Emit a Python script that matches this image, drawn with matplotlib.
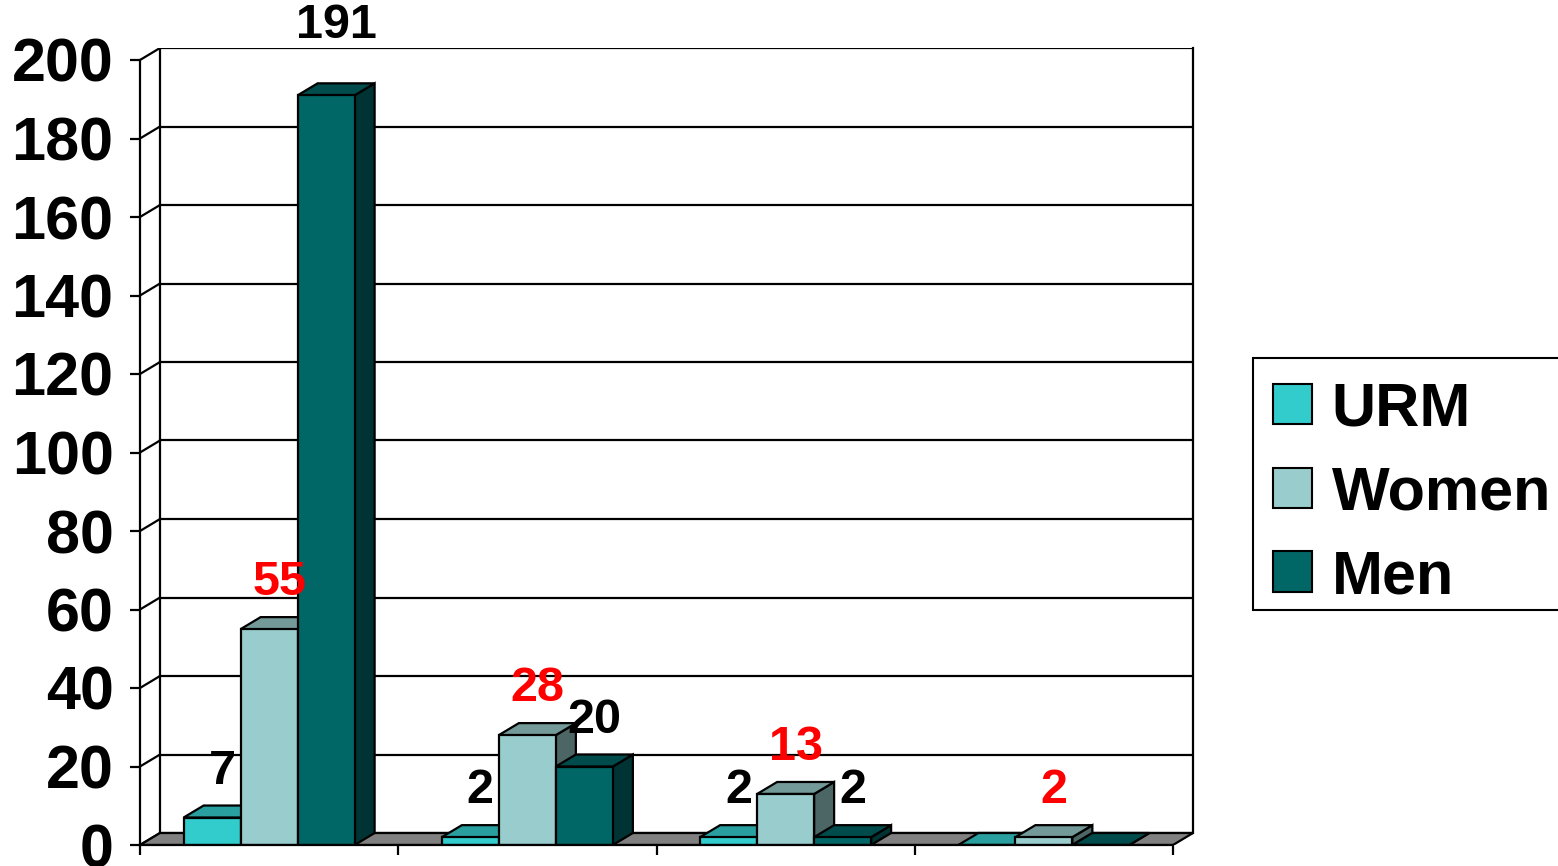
import matplotlib.pyplot as plt
from matplotlib.patches import Polygon, Patch, Rectangle

plt.rcParams['font.family'] = ['Liberation Sans', 'DejaVu Sans']
plt.rcParams['font.weight'] = 'bold'

# Data
series = ['URM', 'Women', 'Men']
urm = [7, 2, 2, 0]
women = [55, 28, 13, 2]
men = [191, 20, 2, 0]
y_ticks = [0, 20, 40, 60, 80, 100, 120, 140, 160, 180, 200]

front_colors = ['#33CCCC', '#99CCCC', '#006666']
top_colors = ['#299F9F', '#739999', '#004C4C']
side_colors = ['#1A6666', '#4C6666', '#003333']
label_colors = ['black', 'red', 'black']

# pixel geometry of the original
px_x0, px_x1 = 140, 1173     # front x axis
px_y0, px_y200 = 845, 60     # front y positions of 0 and 200
dpx, dpy = 20, 12           # 3d depth offset in px
ncat = 4
ux = (px_x1 - px_x0) / ncat           # px per category
uy = (px_y0 - px_y200) / 200          # px per unit
ddx = dpx / ux
ddy = dpy / uy

W, H = 1558, 866
fig = plt.figure(figsize=(W / 100, H / 100), dpi=100)
ax = fig.add_axes([px_x0 / W, (H - px_y0) / H,
                   (px_x1 + dpx - px_x0) / W, (px_y0 - (px_y200 - dpy)) / H])
ax.set_xlim(0, ncat + ddx)
ax.set_ylim(0, 200 + ddy)

lw = 1.6
# floor
ax.add_patch(Polygon([(0, 0), (ncat, 0), (ncat + ddx, ddy), (ddx, ddy)],
                     closed=True, facecolor='#808080', edgecolor='black', lw=lw, zorder=1))
# back wall grid and edges
for v in y_ticks:
    ax.plot([ddx, ncat + ddx], [v + ddy, v + ddy], color='black', lw=lw, zorder=0.5)
    ax.plot([0, ddx], [v, v + ddy], color='black', lw=lw, zorder=0.5)
ax.plot([ddx, ddx], [ddy, 200 + ddy], color='black', lw=lw, zorder=0.5)
ax.plot([ncat + ddx, ncat + ddx], [ddy, 200 + ddy], color='black', lw=lw, zorder=0.5, clip_on=False)

# bars
bw = 57 / ux
start = 0.5 - 1.5 * bw
data = [urm, women, men]
z = 2
text_h = 36 / uy
for i in range(ncat):
    for j, vals in enumerate(data):
        v = vals[i]
        x0 = i + start + j * bw
        x1 = x0 + bw
        front = Polygon([(x0, 0), (x1, 0), (x1, v), (x0, v)], closed=True,
                        facecolor=front_colors[j], edgecolor='black', lw=lw, zorder=z)
        top = Polygon([(x0, v), (x1, v), (x1 + ddx, v + ddy), (x0 + ddx, v + ddy)], closed=True,
                      facecolor=top_colors[j], edgecolor='black', lw=lw, zorder=z)
        side = Polygon([(x1, 0), (x1 + ddx, ddy), (x1 + ddx, v + ddy), (x1, v)], closed=True,
                       facecolor=side_colors[j], edgecolor='black', lw=lw, zorder=z)
        for p in (side, top, front):
            ax.add_patch(p)
        z += 1
        if v > 0:
            ty = v + ddy + 3.0
            if ty + text_h > 200 + ddy:
                ty = 200 + ddy
            ax.text((x0 + x1) / 2 + ddx / 2, ty, str(v), ha='center', va='bottom',
                    fontsize=35, fontweight='bold', color=label_colors[j], zorder=50)

# axes
for s in ['top', 'right']:
    ax.spines[s].set_visible(False)
ax.spines['left'].set_bounds(0, 200)
ax.spines['bottom'].set_bounds(0, ncat)
for s in ['left', 'bottom']:
    ax.spines[s].set_linewidth(lw)
    ax.spines[s].set_zorder(40)
ax.set_yticks(y_ticks)
ax.set_yticklabels([str(v) for v in y_ticks])
ax.set_xticks(range(ncat + 1))
ax.set_xticklabels([])
ax.tick_params(axis='y', length=7, width=lw, pad=12, labelsize=44)
ax.tick_params(axis='x', length=7, width=lw)
for t in ax.get_yticklabels():
    t.set_fontweight('bold')

# legend: frame drawn separately so the rows can sit like the original
ax.add_patch(Rectangle((1253 / W, 1 - 610 / H), 330 / W, 252 / H,
                       transform=fig.transFigure, facecolor='white',
                       edgecolor='black', lw=1.5, zorder=55, clip_on=False))
handles = [Patch(facecolor=c, edgecolor='black', lw=1.5) for c in front_colors]
leg = ax.legend(handles, series, loc='upper left', bbox_to_anchor=(1253 / W, 1 - 362 / H),
                bbox_transform=fig.transFigure, borderaxespad=0, frameon=False,
                prop={'weight': 'bold', 'size': 44}, handlelength=0.65, handleheight=0.65,
                handletextpad=0.32, borderpad=0.32, labelspacing=0.44)
leg.set_zorder(60)

fig.savefig('out.png', dpi=100)
